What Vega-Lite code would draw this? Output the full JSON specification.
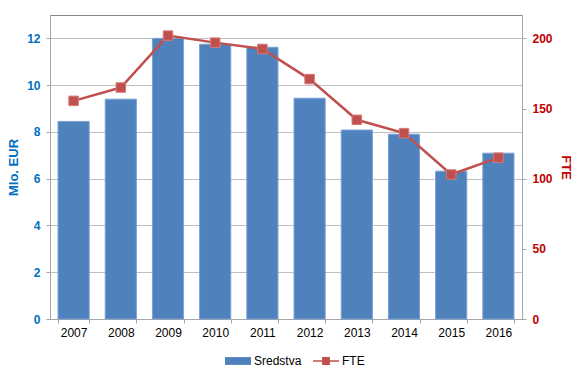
{
  "$schema": "https://vega.github.io/schema/vega-lite/v6.json",
  "width": 472,
  "height": 304,
  "autosize": {"type": "none"},
  "padding": {"left": 50, "top": 15, "right": 65, "bottom": 59},
  "background": "white",
  "config": {
    "font": "Liberation Sans",
    "view": {"stroke": "#868686", "strokeWidth": 1},
    "axis": {"labelFont": "Liberation Sans", "titleFont": "Liberation Sans", "domainColor": "#a6a6a6", "tickColor": "#a6a6a6", "gridColor": "#bfbfbf"}
  },
  "data": {
    "values": [
      {"year": "2007", "sredstva": 8.45, "fte": 155.5},
      {"year": "2008", "sredstva": 9.4, "fte": 165},
      {"year": "2009", "sredstva": 12.0, "fte": 202},
      {"year": "2010", "sredstva": 11.75, "fte": 197},
      {"year": "2011", "sredstva": 11.62, "fte": 192.5},
      {"year": "2012", "sredstva": 9.44, "fte": 171},
      {"year": "2013", "sredstva": 8.08, "fte": 142},
      {"year": "2014", "sredstva": 7.9, "fte": 132.5},
      {"year": "2015", "sredstva": 6.32, "fte": 103},
      {"year": "2016", "sredstva": 7.09, "fte": 115}
    ]
  },
  "encoding": {
    "x": {
      "field": "year", "type": "nominal",
      "scale": {"paddingInner": 0.34, "paddingOuter": 0.17},
      "axis": {"title": null, "labelAngle": 0, "labelFontSize": 12, "labelColor": "#000000", "tickBand": "extent", "tickSize": 4, "labelPadding": 4, "domainColor": "#a6a6a6"}
    }
  },
  "layer": [
    {
      "mark": {"type": "bar", "stroke": "#7ba0d4", "strokeWidth": 1},
      "encoding": {
        "y": {
          "field": "sredstva", "type": "quantitative",
          "scale": {"domain": [0, 13], "nice": false},
          "axis": {"title": "Mlo. EUR", "values": [0, 2, 4, 6, 8, 10, 12], "titleColor": "#0070C0", "titleFontSize": 13, "titleFontWeight": "bold", "labelColor": "#0070C0", "labelFontSize": 12, "labelFontWeight": "bold", "tickSize": 4, "labelPadding": 6, "titlePadding": 6, "grid": true}
        },
        "fill": {"datum": "Sredstva", "type": "nominal", "scale": {"domain": ["Sredstva"], "range": ["#4F81BD"]},
          "legend": {"title": null, "orient": "none", "legendX": 175, "legendY": 333, "labelFontSize": 12, "labelColor": "#000000", "symbolSize": 676, "symbolType": "M-1,-0.3H1V0.3H-1Z", "symbolStrokeWidth": 0, "labelOffset": 3, "labelFont": "Liberation Sans"}}
      }
    },
    {
      "mark": {"type": "line", "strokeWidth": 2.5},
      "encoding": {
        "y": {
          "field": "fte", "type": "quantitative",
          "scale": {"domain": [0, 216.7], "nice": false},
          "axis": {"orient": "right", "title": "FTE", "values": [0, 50, 100, 150, 200], "titleColor": "#C00000", "titleFontSize": 13, "titleFontWeight": "bold", "labelColor": "#C00000", "labelFontSize": 12, "labelFontWeight": "bold", "tickSize": 4, "labelPadding": 6, "titlePadding": 6, "grid": false}
        },
        "stroke": {"datum": "FTE", "type": "nominal", "scale": {"domain": ["FTE"], "range": ["#C0504D"]},
          "legend": {"title": null, "orient": "none", "legendX": 263, "legendY": 333, "labelFontSize": 12, "labelColor": "#000000", "symbolSize": 676, "symbolType": "M-1,-0.06H1V0.06H-1Z M-0.3,-0.3H0.3V0.3H-0.3Z", "symbolFillColor": "#C0504D", "symbolStrokeWidth": 0, "labelOffset": 3, "labelFont": "Liberation Sans"}}
      }
    },
    {
      "mark": {"type": "point", "shape": "square", "size": 90, "filled": true, "color": "#C0504D", "stroke": "#d27b78", "strokeWidth": 1, "opacity": 1},
      "encoding": {
        "y": {"field": "fte", "type": "quantitative", "scale": {"domain": [0, 216.7], "nice": false}, "axis": null}
      }
    }
  ],
  "resolve": {"scale": {"y": "independent"}}
}
